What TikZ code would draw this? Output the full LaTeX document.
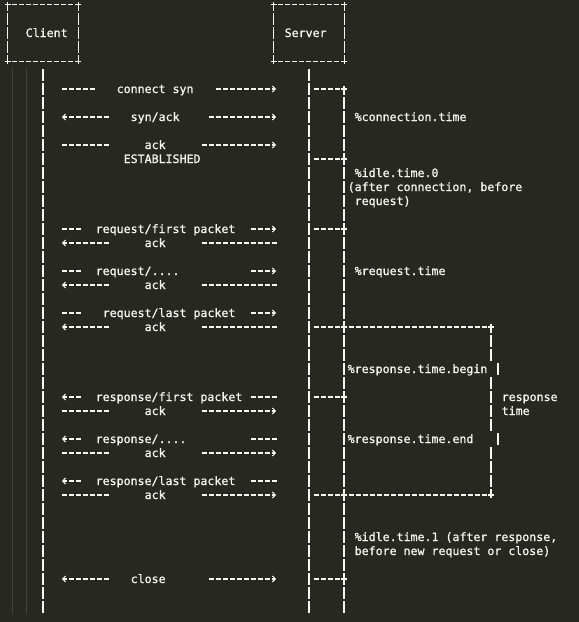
\documentclass[tikz,border=0pt]{standalone}
\usepackage{fontspec}
\setmonofont{DejaVu Sans Mono}[FakeBold=0.8]
\usetikzlibrary{arrows.meta}

\definecolor{editorbg}{HTML}{272822}
\definecolor{editorfg}{HTML}{F8F8F2}
\definecolor{guidegray}{HTML}{5A5B54}

\begin{document}
\begin{tikzpicture}[x=7pt,y=-14pt]
\tikzset{
  txt/.style={anchor=base west,inner sep=0pt,yshift=-4pt,text=editorfg,font=\ttfamily\fontsize{11.6pt}{14pt}\selectfont},
  boxframe/.style={draw=none,inner sep=0pt,minimum width=70pt,minimum height=56pt},
  hrule/.style={draw=editorfg,line width=1.1pt,dash pattern=on 5pt off 2pt,dash phase=6pt},
  hrulec/.style={hrule,dash phase=2.5pt},
  vrule/.style={draw=editorfg,line width=1.1pt,dash pattern=on 12pt off 2pt,dash phase=13pt},
  vrulec/.style={vrule,dash phase=6pt},
  tipr/.style={-{Straight Barb[length=3pt,width=6pt,line width=1.1pt]}},
  guide/.style={draw=guidegray,line width=0.6pt,dash pattern=on 0.7pt off 1.3pt},
  plus/.pic={\draw[draw=editorfg,line width=1.1pt] (-2.8pt,0) -- (2.8pt,0) (0,-2.8pt) -- (0,2.8pt);}
}
% editor background and page size
\fill[editorbg] (-1.143,-0.357) rectangle (81.571,44.071);
\useasboundingbox (-1.143,-0.357) rectangle (81.571,44.071);
\draw[guide] (0.643,4.5) -- (0.643,43.5);
\draw[guide] (2.643,4.5) -- (2.643,43.5);

% the two boxes
\node[boxframe] (cbox) at (5,2) {};
\node[boxframe] (sbox) at (43,2) {};
\draw[hrulec] (cbox.north west) -- (cbox.north east);
\draw[hrulec] (cbox.south west) -- (cbox.south east);
\draw[vrulec] (cbox.north west) -- (cbox.south west);
\draw[vrulec] (cbox.north east) -- (cbox.south east);
\draw[hrulec] (sbox.north west) -- (sbox.north east);
\draw[hrulec] (sbox.south west) -- (sbox.south east);
\draw[vrulec] (sbox.north west) -- (sbox.south west);
\draw[vrulec] (sbox.north east) -- (sbox.south east);
\pic at (cbox.north west) {plus};
\pic at (cbox.north east) {plus};
\pic at (cbox.south west) {plus};
\pic at (cbox.south east) {plus};
\pic at (sbox.north west) {plus};
\pic at (sbox.north east) {plus};
\pic at (sbox.south west) {plus};
\pic at (sbox.south east) {plus};
\node[txt] (t_client) at (2.5,2) {Client};
\node[txt] (t_server) at (39.5,2) {Server};

% lifelines
\coordinate (c_end) at (5,43.5);
\coordinate (s_end) at (43,43.5);
\coordinate (tl_top) at (48,6);
\coordinate (tl_end) at (48,43.5);
\draw[vrule] ([yshift=-7pt]cbox.south) -- (c_end);
\draw[vrule] ([yshift=-7pt]sbox.south) -- (s_end);
\draw[vrulec] (tl_top) -- (tl_end);

% ticks between server and timeline
\draw[hrule] (43.5,6) -- (48.5,6);
\draw[hrule] (43.5,11) -- (48.5,11);
\draw[hrule] (43.5,16) -- (48.5,16);
\draw[hrule] (43.5,23) -- (69.5,23);
\draw[hrule] (43.5,28) -- (48.5,28);
\draw[hrule] (43.5,35) -- (69.5,35);
\draw[hrule] (43.5,41) -- (48.5,41);
\pic at (48,6) {plus};
\pic at (48,11) {plus};
\pic at (48,16) {plus};
\pic at (48,23) {plus};
\pic at (48,28) {plus};
\pic at (48,35) {plus};
\pic at (48,41) {plus};
\pic at (69,23) {plus};
\pic at (69,35) {plus};

% response time bracket
\draw[vrulec] (69,23) -- (69,25.5);
\draw[vrule] (70,25.5) -- (70,26.5);
\draw[vrule] (69,26.5) -- (69,30.5);
\draw[vrule] (70,30.5) -- (70,31.5);
\draw[vrule] (69,31.5) -- (69,35);

% connection
\draw[hrule] (7.5,6) -- (12.5,6);
\node[txt] (m_syn) at (15.5,6) {connect syn};
\draw[hrule,tipr] (29.5,6) -- (38.3,6);
\draw[hrule,tipr] (14.5,8) -- (7.7,8);
\node[txt] (m_synack) at (17.5,8) {syn/ack};
\draw[hrule,tipr] (28.5,8) -- (38.3,8);
\draw[hrule] (7.5,10) -- (14.5,10);
\node[txt] (m_ack1) at (19.5,10) {ack};
\draw[hrule,tipr] (27.5,10) -- (38.3,10);
\node[txt] (m_est) at (16.5,11) {ESTABLISHED};

% request
\draw[hrule] (7.5,16) -- (10.5,16);
\node[txt] (m_req1) at (12.5,16) {request/first packet};
\draw[hrule,tipr] (34.5,16) -- (38.3,16);
\draw[hrule,tipr] (14.5,17) -- (7.7,17);
\node[txt] (m_ack2) at (19.5,17) {ack};
\draw[hrule] (27.5,17) -- (38.5,17);
\draw[hrule] (7.5,19) -- (10.5,19);
\node[txt] (m_req2) at (12.5,19) {request/....};
\draw[hrule,tipr] (34.5,19) -- (38.3,19);
\draw[hrule,tipr] (14.5,20) -- (7.7,20);
\node[txt] (m_ack3) at (19.5,20) {ack};
\draw[hrule] (27.5,20) -- (38.5,20);
\draw[hrule] (7.5,22) -- (10.5,22);
\node[txt] (m_req3) at (13.5,22) {request/last packet};
\draw[hrule,tipr] (34.5,22) -- (38.3,22);
\draw[hrule,tipr] (14.5,23) -- (7.7,23);
\node[txt] (m_ack4) at (19.5,23) {ack};
\draw[hrule] (27.5,23) -- (38.5,23);

% response
\draw[hrule,tipr] (10.5,28) -- (7.7,28);
\node[txt] (m_resp1) at (12.5,28) {response/first packet};
\draw[hrule] (34.5,28) -- (38.5,28);
\draw[hrule] (7.5,29) -- (14.5,29);
\node[txt] (m_ack5) at (19.5,29) {ack};
\draw[hrule,tipr] (27.5,29) -- (38.3,29);
\draw[hrule,tipr] (10.5,31) -- (7.7,31);
\node[txt] (m_resp2) at (12.5,31) {response/....};
\draw[hrule] (34.5,31) -- (38.5,31);
\draw[hrule] (7.5,32) -- (14.5,32);
\node[txt] (m_ack6) at (19.5,32) {ack};
\draw[hrule,tipr] (27.5,32) -- (38.3,32);
\draw[hrule,tipr] (10.5,34) -- (7.7,34);
\node[txt] (m_resp3) at (12.5,34) {response/last packet};
\draw[hrule] (34.5,34) -- (38.5,34);
\draw[hrule] (7.5,35) -- (14.5,35);
\node[txt] (m_ack7) at (19.5,35) {ack};
\draw[hrule,tipr] (27.5,35) -- (38.3,35);

% close
\draw[hrule,tipr] (14.5,41) -- (7.7,41);
\node[txt] (m_close) at (17.5,41) {close};
\draw[hrule,tipr] (28.5,41) -- (38.3,41);

% timing notes
\node[txt] (n_conn) at (49.5,8) {\%connection.time};
\node[txt] (n_idle0a) at (49.5,12) {\%idle.time.0};
\node[txt] (n_idle0b) at (48.5,13) {(after connection, before};
\node[txt] (n_idle0c) at (49.5,14) {request)};
\node[txt] (n_reqtime) at (49.5,19) {\%request.time};
\node[txt] (n_rbegin) at (48.5,26) {\%response.time.begin};
\node[txt] (n_rend) at (48.5,31) {\%response.time.end};
\node[txt] (n_rt1) at (70.5,28) {response};
\node[txt] (n_rt2) at (70.5,29) {time};
\node[txt] (n_idle1a) at (49.5,38) {\%idle.time.1 (after response,};
\node[txt] (n_idle1b) at (49.5,39) {before new request or close)};
\end{tikzpicture}
\end{document}
